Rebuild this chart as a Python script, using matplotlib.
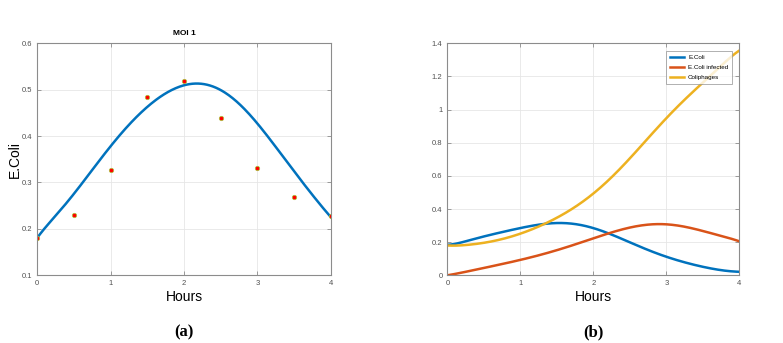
import numpy as np
import matplotlib
matplotlib.use("Agg")
from matplotlib import pyplot as plt

plt.rcParams['font.family'] = ['Liberation Sans', 'DejaVu Sans']

## Données

# (a) points mesurés MOI 1
t_mes = [0, 0.5, 1, 1.5, 2, 2.5, 3, 3.5, 4]
ecoli_mes = [0.181, 0.231, 0.327, 0.484, 0.519, 0.440, 0.332, 0.269, 0.228]

# (a) courbe ajustée
t_fit = [0, 0.25, 0.5, 0.75, 1, 1.25, 1.5, 1.75, 2, 2.2, 2.5, 2.75, 3, 3.25, 3.5, 3.75, 4]
ecoli_fit = [0.180, 0.228, 0.275, 0.327, 0.378, 0.424, 0.463, 0.492, 0.509, 0.514,
             0.499, 0.469, 0.427, 0.377, 0.323, 0.273, 0.225]

# (b) modèle
t_mod = [0, 0.25, 0.5, 0.75, 1, 1.25, 1.5, 1.75, 2, 2.25, 2.5, 2.75, 3, 3.25, 3.5, 3.75, 4]
ecoli = [0.184, 0.206, 0.232, 0.262, 0.286, 0.305, 0.314, 0.308, 0.287, 0.248,
         0.196, 0.150, 0.117, 0.077, 0.050, 0.032, 0.021]
ecoli_inf = [0.0, 0.021, 0.044, 0.068, 0.093, 0.120, 0.152, 0.186, 0.222, 0.260,
             0.288, 0.304, 0.309, 0.293, 0.267, 0.238, 0.205]
phages = [0.180, 0.183, 0.195, 0.219, 0.252, 0.293, 0.347, 0.412, 0.495, 0.592,
          0.702, 0.830, 0.948, 1.058, 1.163, 1.264, 1.356]
noms = ["E.Coli", "E.Coli infected", "Coliphages"]

bleu = '#0072BD'
orange = '#D95319'
jaune = '#EDB120'

def lisse(x, y):                       # polynôme pour tracer la courbe lisse
    xs = np.linspace(x[0], x[-1], 300)
    c = np.polyfit(x, y, 9)
    return xs, np.polyval(c, xs)

def style_matlab(ax):                  # aspect façon MATLAB
    for s in ax.spines.values():
        s.set_color('#8c8c8c')
        s.set_linewidth(0.8)
    ax.grid(True, color='#e6e6e6', linewidth=0.6)
    ax.set_axisbelow(True)
    ax.tick_params(direction='in', length=3, width=0.6, colors='#8c8c8c',
                   labelsize=5.5, labelcolor='#505050', top=True, right=True)


fig = plt.figure(figsize=(7.83, 3.43), dpi=100)

## (a)
ax1 = fig.add_axes([0.0473, 0.1974, 0.3754, 0.6764])
xs, ys = lisse(t_fit, ecoli_fit)
ax1.plot(xs, ys, color=bleu, linewidth=1.8)
ax1.plot(t_mes, ecoli_mes, 'o', markersize=3.2, markerfacecolor='red',
         markeredgecolor='#a8c83c', markeredgewidth=0.5, linestyle='none')
ax1.set_xlim(0, 4)
ax1.set_ylim(0.1, 0.6)
ax1.set_xticks([0, 1, 2, 3, 4])
ax1.set_yticks([0.1, 0.2, 0.3, 0.4, 0.5, 0.6])
style_matlab(ax1)
ax1.set_title("MOI 1", fontsize=6, fontweight='bold', pad=6)
ax1.set_xlabel("Hours", fontsize=10, labelpad=2)
ax1.set_ylabel("E.Coli", fontsize=10)
ax1.yaxis.set_label_coords(-0.05, 0.5)
ax1.text(0.5, -0.245, "(a)", transform=ax1.transAxes, ha='center', va='center',
         fontsize=12, fontweight='bold', family='Liberation Serif')

## (b)
ax2 = fig.add_axes([0.5713, 0.1974, 0.3729, 0.6764])
for y, c, n in zip([ecoli, ecoli_inf, phages], [bleu, orange, jaune], noms):
    xs, ys = lisse(t_mod, y)
    ax2.plot(xs, ys, color=c, linewidth=1.8, label=n)
ax2.set_xlim(0, 4)
ax2.set_ylim(0, 1.4)
ax2.set_xticks([0, 1, 2, 3, 4])
ax2.set_yticks([0, 0.2, 0.4, 0.6, 0.8, 1, 1.2, 1.4])
ax2.set_yticklabels(["0", "0.2", "0.4", "0.6", "0.8", "1", "1.2", "1.4"])
style_matlab(ax2)
ax2.set_xlabel("Hours", fontsize=10, labelpad=2)
leg = ax2.legend(loc='upper right', fontsize=4.5, handlelength=2.3, frameon=True,
                 fancybox=False, edgecolor='#8c8c8c', borderpad=0.6,
                 labelspacing=0.75, borderaxespad=0, handletextpad=0.6,
                 bbox_to_anchor=(0.975, 0.967))
leg.get_frame().set_linewidth(0.6)
ax2.text(0.5, -0.245, "(b)", transform=ax2.transAxes, ha='center', va='center',
         fontsize=12, fontweight='bold', family='Liberation Serif')

fig.savefig("out.png", dpi=100)
